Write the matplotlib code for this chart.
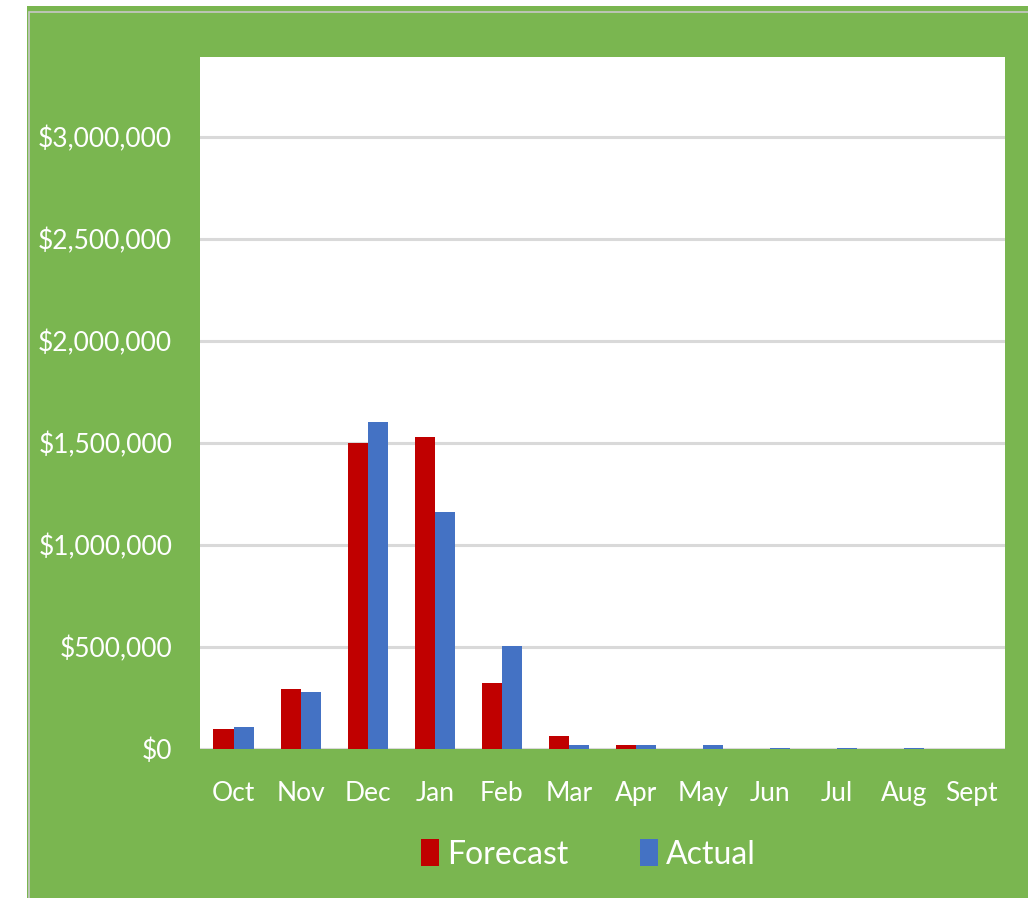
import matplotlib
matplotlib.use('Agg')
import matplotlib.pyplot as plt
from matplotlib.patches import Rectangle
from matplotlib.ticker import FuncFormatter
import numpy as np

# data
months = ["Oct", "Nov", "Dec", "Jan", "Feb", "Mar", "Apr", "May", "Jun", "Jul", "Aug", "Sept"]
forecast = [97000, 293000, 1500000, 1530000, 322000, 62000, 18000, 0, 0, 0, 0, 0]
actual = [110000, 278000, 1603000, 1162000, 507000, 18000, 18000, 18000, 3000, 3000, 3000, 0]
yticks = [0, 500000, 1000000, 1500000, 2000000, 2500000, 3000000]

GREEN = "#7ab650"
RED = "#c00000"
BLUE = "#4472c4"
GRID = "#d9d9d9"

# Lato is the narrowest of the installed ones, closest to Calibri
plt.rcParams['font.family'] = ["Lato", "DejaVu Sans"]

fig = plt.figure(figsize=(10.28, 8.98), dpi=100, facecolor="white")

# green chart area + thin grey border (behind the axes)
fig.patches.append(Rectangle((27 / 1028, 0), 1 - 27 / 1028, 1 - 6 / 898,
                             transform=fig.transFigure, facecolor=GREEN, edgecolor="none", zorder=-10))
fig.patches.append(Rectangle((29 / 1028, -0.01), 1.0, 1 - 12 / 898 + 0.01,
                             transform=fig.transFigure, facecolor="none", edgecolor="#c8c8c8",
                             linewidth=1.2, zorder=-9))

ax = fig.add_axes([200 / 1028, 1 - 749 / 898, 805 / 1028, (749 - 57) / 898])
ax.set_facecolor("white")

x = np.arange(len(months))
w = 0.3
ax.bar(x - w / 2, forecast, w, color=RED, label="Forecast", zorder=3)
ax.bar(x + w / 2, actual, w, color=BLUE, label="Actual", zorder=3)

ax.set_xlim(-0.5, len(months) - 0.5)
ax.set_ylim(0, 3390000)
ax.set_yticks(yticks)
ax.yaxis.set_major_formatter(FuncFormatter(lambda v, p: f"${v:,.0f}"))
ax.set_xticks(x)
ax.set_xticklabels(months)

for v in yticks:
    ax.axhline(v, color=GRID, linewidth=2.2, zorder=1)

for s in ax.spines.values():
    s.set_visible(False)
ax.tick_params(axis="both", length=0, colors="white", labelsize=19)
ax.tick_params(axis="y", pad=20)
ax.tick_params(axis="x", pad=23)

# legend sits a bit left of centre in the original
leg = ax.legend(loc="upper left", bbox_to_anchor=(0.259, -0.112), borderaxespad=0,
                ncol=2, frameon=False, fontsize=23, handlelength=0.55, handleheight=0.9,
                handletextpad=0.25, columnspacing=2.25)
for t in leg.get_texts():
    t.set_color("white")

fig.savefig("out.png", dpi=100, facecolor="white")
